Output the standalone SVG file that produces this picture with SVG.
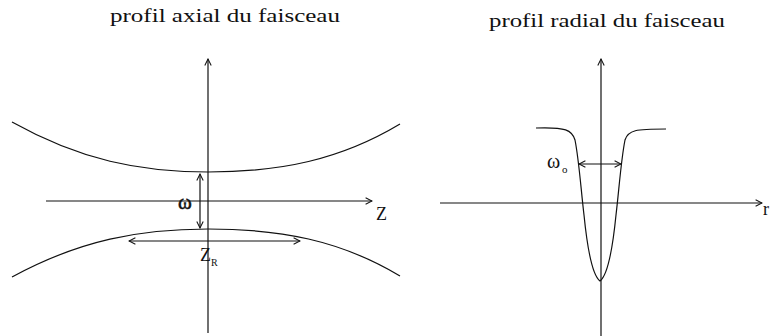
<svg xmlns="http://www.w3.org/2000/svg" width="772" height="336" viewBox="0 0 772 336">
<style>
.ln{fill:none;stroke:#111;stroke-width:1.2}
text{font-family:'Liberation Serif','Times New Roman',serif;fill:#111}
</style>
<defs>
<marker id="ah" viewBox="0 0 10 10" refX="9" refY="5" markerWidth="8" markerHeight="8" markerUnits="userSpaceOnUse" orient="auto-start-reverse">
<path d="M1,1 L9,5 L1,9" fill="none" stroke="#111" stroke-width="1.3"/>
</marker>
</defs>
<rect width="772" height="336" fill="#fff"/>
<g id="axial">
<text x="225" y="22" font-size="19" font-family="Liberation Serif, serif" text-anchor="middle" textLength="230" lengthAdjust="spacingAndGlyphs">profil axial du faisceau</text>
<g id="connectors-axial">
<line class="ln" x1="208" y1="333" x2="208" y2="59" marker-end="url(#ah)"/>
<line class="ln" x1="46" y1="201" x2="372" y2="201" marker-end="url(#ah)"/>
<line class="ln" x1="200" y1="174" x2="200" y2="228" marker-start="url(#ah)" marker-end="url(#ah)"/>
<line class="ln" x1="129" y1="241" x2="300" y2="241" marker-start="url(#ah)" marker-end="url(#ah)"/>
</g>
<path class="ln" d="M12,122 C80,160 140,172 208,172 C280,172 340,160 400,124"/>
<path class="ln" d="M12,277 C80,240 140,229 208,229 C280,229 340,240 400,276"/>
<text x="178" y="209" font-size="21" font-family="Liberation Serif, serif" stroke="#111" stroke-width="0.5">ω</text>
<text x="376" y="220" font-size="18" font-family="Liberation Serif, serif">Z</text>
<text x="200" y="261" font-size="18" font-family="Liberation Serif, serif">Z</text>
<text x="211" y="266" font-size="10" font-family="Liberation Serif, serif">R</text>
</g>
<g id="radial">
<text x="607" y="27" font-size="19" font-family="Liberation Serif, serif" text-anchor="middle" textLength="236" lengthAdjust="spacingAndGlyphs">profil radial du faisceau</text>
<g id="connectors-radial">
<line class="ln" x1="601" y1="336" x2="601" y2="59" marker-end="url(#ah)"/>
<line class="ln" x1="440" y1="203" x2="762" y2="203" marker-end="url(#ah)"/>
<line class="ln" x1="579" y1="164" x2="621" y2="164" marker-start="url(#ah)" marker-end="url(#ah)"/>
</g>
<path class="ln" d="M536,128 C566,127 572,130 575,140 C579,160 581,190 584,215 C587,245 592,275 600,281 C608,275 613,245 616,215 C619,190 621,160 625,140 C628,130 636,129 666,129"/>
<text x="547" y="168" font-size="20" font-family="Liberation Serif, serif">ω</text>
<text x="562" y="173" font-size="11" font-family="Liberation Serif, serif">o</text>
<text x="763" y="215" font-size="18" font-family="Liberation Serif, serif">r</text>
</g>
</svg>
